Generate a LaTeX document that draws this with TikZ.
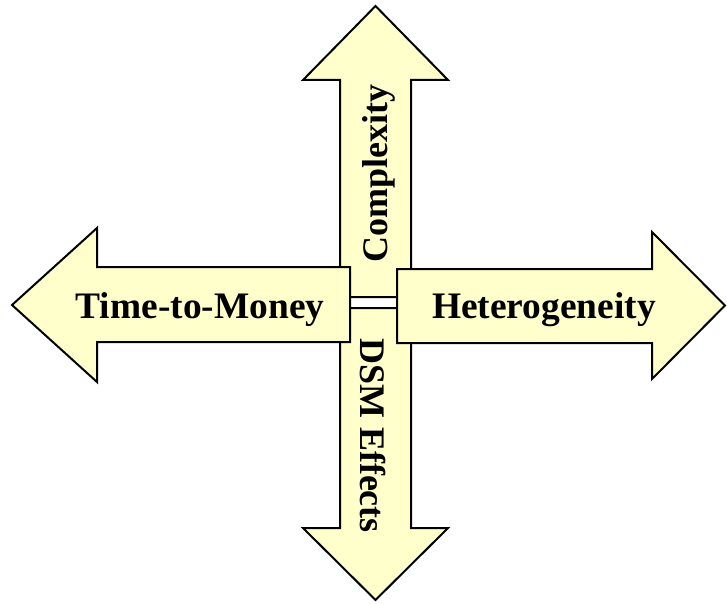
\documentclass[tikz,border=0pt]{standalone}
\usepackage{fontspec}
\setmainfont{Liberation Serif}
\begin{document}
\begin{tikzpicture}[x=1pt,y=-1pt,
  arrowshape/.style={draw=black,line width=2pt,fill=arrowfill,line join=miter},
  hlabel/.style={font=\fontsize{37.4}{42}\selectfont\bfseries,inner sep=0pt,anchor=base},
  vlabel/.style={font=\fontsize{36}{40}\selectfont\bfseries,inner sep=0pt}]
\definecolor{arrowfill}{HTML}{FFFFCC}
\useasboundingbox (0,0) rectangle (727,604);
% up arrow
\draw[arrowshape] (340,297) -- (340,80) -- (303,80) -- (375.5,6) -- (448,80) -- (411,80) -- (411,297) -- cycle;
% down arrow
\draw[arrowshape] (340,308) -- (411,308) -- (411,528) -- (448,528) -- (375.5,600) -- (303,528) -- (340,528) -- cycle;
% left arrow
\draw[arrowshape] (350,267) -- (97,267) -- (97,228) -- (12,305) -- (97,382) -- (97,342) -- (350,342) -- cycle;
% right arrow
\draw[arrowshape] (397,269) -- (652,269) -- (652,232) -- (725,305.5) -- (652,379) -- (652,343) -- (397,343) -- cycle;
\node[hlabel] (left) at (200,318) {Time-to-Money};
\node[hlabel] (right) at (544,318) {Heterogeneity};
\node[vlabel,rotate=90] (up) at (378.5,173.5) {Complexity};
\node[vlabel,rotate=-90] (down) at (372.5,435.5) {DSM Effects};
\end{tikzpicture}
\end{document}
